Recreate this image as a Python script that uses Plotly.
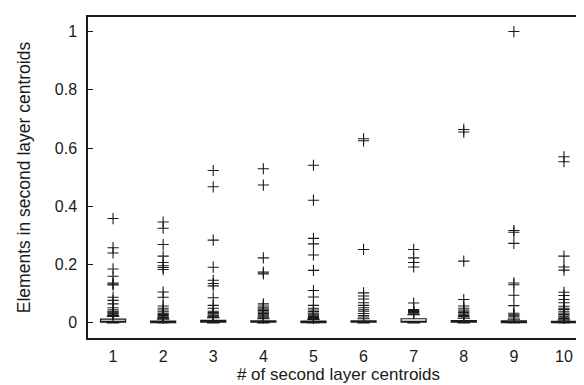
import plotly.graph_objects as go

categories = [1, 2, 3, 4, 5, 6, 7, 8, 9, 10]
q1 = [0.002, 0.001, 0.002, 0.002, 0.001, 0.002, 0.002, 0.002, 0.001, 0.001]
median = [0.005, 0.003, 0.004, 0.004, 0.003, 0.004, 0.005, 0.004, 0.003, 0.003]
q3 = [0.013, 0.006, 0.009, 0.007, 0.006, 0.007, 0.014, 0.008, 0.007, 0.005]
lower_whisker = [0.0, 0.0, 0.0, 0.0, 0.0, 0.0, 0.0, 0.0, 0.0, 0.0]
upper_whisker = [0.022, 0.013, 0.018, 0.014, 0.012, 0.014, 0.028, 0.016, 0.013, 0.010]

outliers_1 = [0.358, 0.258, 0.240, 0.185, 0.160, 0.137, 0.133, 0.130, 0.088, 0.077, 0.065,
              0.052, 0.045, 0.040, 0.037, 0.034, 0.031, 0.028, 0.025]
outliers_2 = [0.346, 0.325, 0.269, 0.229, 0.207, 0.196, 0.190, 0.183, 0.106, 0.088, 0.058,
              0.050, 0.044, 0.038, 0.033, 0.029, 0.025, 0.021, 0.018, 0.016]
outliers_3 = [0.523, 0.467, 0.284, 0.191, 0.146, 0.135, 0.127, 0.086, 0.060, 0.050, 0.040,
              0.035, 0.031, 0.027, 0.024, 0.021]
outliers_4 = [0.529, 0.473, 0.223, 0.174, 0.168, 0.065, 0.058, 0.052, 0.047, 0.042, 0.037,
              0.032, 0.028, 0.024, 0.020, 0.017]
outliers_5 = [0.541, 0.421, 0.290, 0.271, 0.233, 0.180, 0.111, 0.089, 0.060, 0.050, 0.044,
              0.039, 0.034, 0.030, 0.026, 0.022, 0.018, 0.015]
outliers_6 = [0.632, 0.625, 0.252, 0.103, 0.092, 0.082, 0.069, 0.060, 0.052, 0.045, 0.040,
              0.032, 0.025, 0.020]
outliers_7 = [0.252, 0.223, 0.207, 0.192, 0.068, 0.046, 0.042, 0.039, 0.036, 0.033]
outliers_8 = [0.664, 0.655, 0.212, 0.080, 0.058, 0.050, 0.044, 0.040, 0.035, 0.030, 0.025, 0.022]
outliers_9 = [1.0, 0.317, 0.311, 0.273, 0.137, 0.131, 0.095, 0.059, 0.033, 0.028, 0.024, 0.020]
outliers_10 = [0.570, 0.553, 0.229, 0.192, 0.181, 0.105, 0.094, 0.080, 0.069, 0.057, 0.050,
               0.046, 0.040, 0.034, 0.029, 0.023, 0.019, 0.015]
outliers = [outliers_1, outliers_2, outliers_3, outliers_4, outliers_5,
            outliers_6, outliers_7, outliers_8, outliers_9, outliers_10]

tick_labels = [str(c) for c in categories]
x_title = "# of second layer centroids"
y_title = "Elements in second layer centroids"

FONT = "Liberation Sans, Arial, Helvetica, sans-serif"
INK = "#1a1a1a"

fig = go.Figure()

fig.add_trace(go.Box(
    x=categories, q1=q1, median=median, q3=q3,
    lowerfence=lower_whisker, upperfence=upper_whisker,
    boxpoints=False, width=0.5, whiskerwidth=0.5,
    fillcolor="white", line=dict(color=INK, width=1.2),
    showlegend=False, hoverinfo="skip",
))

ox, oy = [], []
for c, vals in zip(categories, outliers):
    for v in vals:
        ox.append(c)
        oy.append(v)

fig.add_trace(go.Scatter(
    x=ox, y=oy, mode="markers",
    marker=dict(symbol="cross-thin", size=8, line=dict(color=INK, width=1.1)),
    showlegend=False, hoverinfo="skip",
))

fig.update_layout(
    width=584, height=385,
    margin=dict(l=80, r=3, t=9, b=55),
    paper_bgcolor="white", plot_bgcolor="white",
    font=dict(family=FONT, size=16, color=INK),
    showlegend=False,
)

fig.update_xaxes(
    range=[0.5, 10.5], tickmode="array", tickvals=categories, ticktext=tick_labels,
    ticks="", showgrid=False, zeroline=False,
    showline=True, linecolor=INK, linewidth=1.5, mirror=True,
    tickfont=dict(size=16), ticklabelstandoff=3,
    automargin=False,
    title=dict(text=x_title, font=dict(size=17), standoff=2),
)
fig.update_yaxes(
    range=[-0.052, 1.05], tickmode="array", tickvals=[0, 0.2, 0.4, 0.6, 0.8, 1],
    ticktext=["0", "0.2", "0.4", "0.6", "0.8", "1"],
    ticks="inside", ticklen=5, tickcolor=INK, tickwidth=1,
    showgrid=False, zeroline=False,
    showline=True, linecolor=INK, linewidth=1.5, mirror="ticks",
    tickfont=dict(size=16), ticklabelstandoff=6,
    automargin=False,
    title=dict(text=y_title, font=dict(size=17.5), standoff=20),
)

fig.write_html("out.html")
